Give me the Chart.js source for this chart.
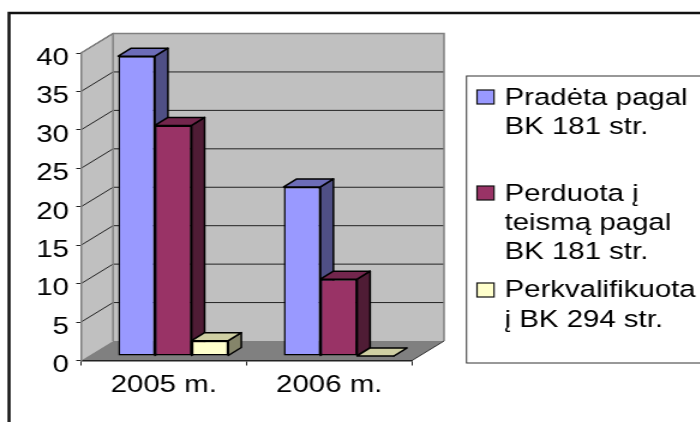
<!DOCTYPE html>
<html>
<head>
<meta charset="utf-8">
<script src="https://cdn.jsdelivr.net/npm/chart.js@4"></script>
<style>
    html, body { margin: 0; padding: 0; background: #fff; overflow: hidden; width: 700px; height: 422px; }
    /* the reference is a sideways stretched picture, so the whole canvas gets stretched too */
    #chart { display: block; transform-origin: 0 0; transform: scaleX(1.2); }
</style>
</head>
<body>
<canvas id="chart" width="584" height="422"></canvas>
<script>
const categories = ["2005 m.", "2006 m."]
const started = [39, 22]
const transferred = [30, 10]
const requalified = [2, 0]
const legendLines = [
    ["Pradėta pagal", "BK 181 str."],
    ["Perduota į", "teismą pagal", "BK 181 str."],
    ["Perkvalifikuota", "į BK 294 str."],
]

const STRETCH = 1.2
const FONT = "Liberation Sans, Arial, sans-serif"
const FONT_SIZE = 24.5
const px = (x) => x / STRETCH // picture x to canvas x

// colours per series: front, side, top
const shades = [
    ["#9999FF", "#4F4F85", "#6C6CB8"],
    ["#993366", "#4F1C35", "#73264D"],
    ["#FFFFCC", "#85856A", "#CFCFA3"],
]

const wallDx = px(32)
const wallDy = -19.5
const barDx = px(9.5)
const barDy = -4.5
const depthDx = px(13)
const depthDy = -8

function poly(ctx, pts, fill, stroke, width) {
    ctx.beginPath()
    pts.forEach((p, i) => (i ? ctx.lineTo(p[0], p[1]) : ctx.moveTo(p[0], p[1])))
    ctx.closePath()
    if (fill) {
        ctx.fillStyle = fill
        ctx.fill()
    }
    if (stroke) {
        ctx.strokeStyle = stroke
        ctx.lineWidth = width
        ctx.stroke()
    }
}

// walls, floor and gridlines behind the bars
const wallsPlugin = {
    id: "walls",
    beforeDraw(chart) {
        const { ctx, scales } = chart
        const l = scales.x.left
        const r = scales.x.right
        const top = scales.y.getPixelForValue(40)
        const bottom = scales.y.getPixelForValue(0)
        ctx.save()
        ctx.fillStyle = "#fff"
        ctx.fillRect(0, 0, chart.width, chart.height)

        // outer frame
        ctx.strokeStyle = "#111"
        ctx.lineWidth = 2.5
        ctx.beginPath()
        ctx.moveTo(px(9), 440)
        ctx.lineTo(px(9), 13)
        ctx.lineTo(chart.width + 5, 13)
        ctx.stroke()

        poly(ctx, [[l, top], [l + wallDx, top + wallDy], [l + wallDx, bottom + wallDy], [l, bottom]], "#C0C0C0")
        poly(ctx, [[l + wallDx, top + wallDy], [r + wallDx, top + wallDy], [r + wallDx, bottom + wallDy], [l + wallDx, bottom + wallDy]], "#C0C0C0")
        poly(ctx, [[l, bottom], [r, bottom], [r + wallDx, bottom + wallDy], [l + wallDx, bottom + wallDy]], "#808080")

        scales.y.ticks.forEach((t) => {
            const y = scales.y.getPixelForValue(t.value)
            if (t.value === 0) return
            ctx.strokeStyle = "#222"
            ctx.lineWidth = 1
            ctx.beginPath()
            ctx.moveTo(l, y)
            ctx.lineTo(l + wallDx, y + wallDy)
            if (t.value < 40) ctx.lineTo(r + wallDx, y + wallDy)
            ctx.stroke()
        })

        // wall edges
        ctx.strokeStyle = "#808080"
        ctx.lineWidth = 1.5
        ctx.beginPath()
        ctx.moveTo(l, top)
        ctx.lineTo(l + wallDx, top + wallDy)
        ctx.lineTo(r + wallDx, top + wallDy)
        ctx.lineTo(r + wallDx, bottom + wallDy)
        ctx.moveTo(l + wallDx, top + wallDy)
        ctx.lineTo(l + wallDx, bottom + wallDy)
        ctx.stroke()

        // floor edge on the right
        ctx.strokeStyle = "#333"
        ctx.lineWidth = 1
        ctx.beginPath()
        ctx.moveTo(r, bottom)
        ctx.lineTo(r + wallDx, bottom + wallDy)
        ctx.stroke()
        ctx.restore()
    },
    // side and top faces go under the library's front faces
    beforeDatasetsDraw(chart) {
        const { ctx } = chart
        ctx.save()
        ctx.translate(barDx, barDy)
        ctx.lineJoin = "round"
        chart.data.datasets.forEach((ds, i) => {
            chart.getDatasetMeta(i).data.forEach((bar) => {
                const x0 = bar.x - bar.width / 2
                const x1 = bar.x + bar.width / 2
                const y0 = bar.y
                const y1 = bar.base
                poly(ctx, [[x1, y0], [x1 + depthDx, y0 + depthDy], [x1 + depthDx, y1 + depthDy], [x1, y1]], shades[i][1], "#000", 1.5)
                poly(ctx, [[x0, y0], [x0 + depthDx, y0 + depthDy], [x1 + depthDx, y0 + depthDy], [x1, y0]], shades[i][2], "#000", 1.5)
            })
        })
    },
    afterDatasetsDraw(chart) {
        chart.ctx.restore()
    },
    afterDraw(chart) {
        const { ctx } = chart
        ctx.save()
        ctx.strokeStyle = "#333"
        ctx.lineWidth = 1
        ctx.strokeRect(px(466.5), 76, 300, 287)

        const swatchTops = [90, 186, 283]
        const baselines = [[105, 134], [201, 230, 259], [297, 327]]
        ctx.font = FONT_SIZE + "px " + FONT
        ctx.textAlign = "left"
        ctx.textBaseline = "alphabetic"
        legendLines.forEach((lines, i) => {
            ctx.fillStyle = shades[i][0]
            ctx.strokeStyle = "#111"
            ctx.lineWidth = 1.2
            ctx.fillRect(px(477), swatchTops[i], px(17), 14)
            ctx.strokeRect(px(477), swatchTops[i], px(17), 14)
            ctx.fillStyle = "#000"
            lines.forEach((line, j) => ctx.fillText(line, px(504.5), baselines[i][j]))
        })
        ctx.restore()
    },
}

new Chart(document.getElementById("chart"), {
    type: "bar",
    data: {
        labels: categories,
        datasets: [
            { label: legendLines[0].join(" "), data: started, backgroundColor: shades[0][0] },
            { label: legendLines[1].join(" "), data: transferred, backgroundColor: shades[1][0] },
            { label: legendLines[2].join(" "), data: requalified, backgroundColor: shades[2][0] },
        ],
    },
    plugins: [wallsPlugin],
    options: {
        responsive: false,
        animation: false,
        devicePixelRatio: 1,
        layout: { padding: { top: 53, right: 584 - px(412), left: 0, bottom: 0 } },
        datasets: {
            bar: {
                categoryPercentage: 0.665,
                barPercentage: 1,
                borderColor: "#000",
                borderWidth: 1.5,
                borderSkipped: false,
                clip: false,
            },
        },
        plugins: { legend: { display: false }, title: { display: false }, tooltip: { enabled: false } },
        scales: {
            x: {
                afterFit: (s) => { s.height = 61.5 },
                grid: { drawOnChartArea: false, tickLength: 5, tickColor: "#222" },
                border: { color: "#222", width: 1.5 },
                ticks: { color: "#000", font: { family: FONT, size: FONT_SIZE }, padding: 5, maxRotation: 0 },
            },
            y: {
                min: 0,
                max: 40,
                afterFit: (s) => { s.width = px(81) },
                grid: { drawOnChartArea: false, tickLength: 4, tickColor: "#222" },
                border: { color: "#808080", width: 1.5 },
                ticks: { stepSize: 5, color: "#000", font: { family: FONT, size: FONT_SIZE }, padding: 6, labelOffset: 5 },
            },
        },
    },
})
</script>
</body>
</html>
